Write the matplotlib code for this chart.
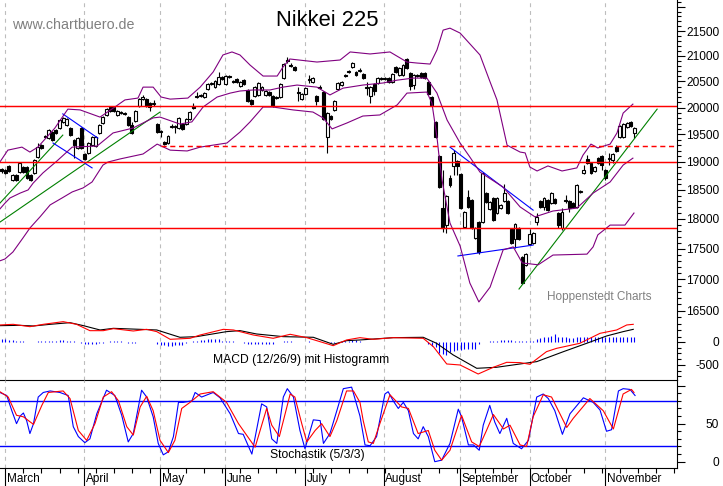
import matplotlib
matplotlib.use("Agg")
import matplotlib.pyplot as plt
from matplotlib.ticker import NullFormatter
from matplotlib.transforms import blended_transform_factory as btf

plt.rcParams['font.family'] = ['Liberation Sans', 'DejaVu Sans']

# ---------- daily candles ----------
opens = [18870,18850,18920,18670,18760,18815,18905,18905,18760,18800,
19085,19300,19470,19430,19540,19580,19615,19730,19670,19615,
19395,19250,19615,19140,19160,19300,19285,19525,19710,19860,
20010,20010,19860,19915,19895,19820,19670,19745,20030,20160,
20160,20085,20065,19690,19560,19355,19340,19635,19635,19615,
19690,19690,19785,20030,20220,20220,20200,20355,20450,20390,
20450,20585,20450,20605,20510,20545,20410,20525,20335,20145,
20220,20240,20335,20240,20295,20220,20200,20200,20565,20920,
20820,20780,20295,20160,20260,20545,20490,20220,20390,20295,
19450,19840,19955,20355,20430,20625,20705,20780,20685,20705,
20645,20390,20220,20450,20470,20565,20545,20565,20490,20780,
20625,20625,20940,20665,20430,20625,20665,20665,20490,20200,
19730,19105,18185,17895,18710,18925,19015,18780,17865,18375,
18325,17680,17945,17945,18445,18170,18360,18100,18185,18305,
18305,17830,17660,17845,17360,17235,17580,17595,17945,18305,
18205,18325,18270,18340,18100,17845,18325,18305,18270,18205,
18465,18800,19050,18975,18835,19065,19105,18850,19050,19030,
19265,19450,19450,19635,19730,19525]
highs = [18890,18870,18940,18780,18780,18995,18925,18925,18780,19050,
19340,19320,19490,19600,19560,19600,19785,19820,19800,19635,
19410,19450,19635,19160,19355,19470,19470,19690,19840,19990,
20030,20030,19955,19935,19915,19840,19730,19955,20180,20240,
20180,20105,20145,19710,19580,19375,19485,19690,19670,19820,
19710,19800,19935,20085,20295,20260,20295,20470,20490,20530,
20685,20605,20625,20625,20530,20565,20510,20545,20355,20160,
20410,20490,20410,20335,20315,20240,20220,20470,20860,20980,
20860,20800,20390,20280,20390,20625,20585,20240,20430,20315,
19915,19860,20145,20490,20510,20645,20725,20880,20705,20760,
20665,20490,20410,20470,20585,20585,20585,20585,20665,20800,
20780,20840,20960,20685,20645,20645,20685,20685,20510,20220,
19745,19125,18850,18410,18765,19215,19035,18800,18135,18500,
18340,17860,17965,18815,18460,18305,18375,18375,18255,18600,
18320,17845,17930,17860,17380,17430,17830,17780,18100,18320,
18375,18340,18460,18360,18120,18185,18410,18320,18290,18600,
18500,18940,19120,18995,18925,19085,19125,18870,19160,19160,
19300,19670,19710,19730,19745,19635]
lows = [18800,18780,18820,18660,18655,18800,18800,18690,18655,18780,
19065,19230,19430,19410,19375,19505,19600,19710,19655,19470,
19065,19230,19230,19030,19140,19285,19265,19505,19690,19840,
19915,19915,19840,19880,19860,19655,19505,19730,20010,20140,
20010,19935,20030,19525,19450,19300,19320,19615,19525,19600,
19580,19670,19765,19975,20180,20200,20180,20335,20430,20370,
20430,20525,20430,20565,20470,20470,20390,20430,20105,20050,
20200,20220,20315,20220,20220,20010,20160,20180,20545,20860,
20780,20705,20125,20145,20240,20470,20470,20050,20355,19765,
19160,19765,19935,20335,20410,20585,20665,20760,20605,20685,
20545,20240,20085,20240,20450,20525,20525,20470,20470,20665,
20605,20605,20740,20335,20355,20585,20565,20545,20240,20030,
19430,18535,17780,17760,18550,18765,18765,18170,17845,18185,
17830,17660,17410,17930,18270,18150,17965,18085,18170,18290,
18085,17580,17510,17645,16920,17215,17560,17580,17895,18185,
18150,18135,18255,18255,17845,17810,18270,18120,18185,18185,
18445,18780,18960,18780,18815,18960,18850,18675,18940,18975,
19175,19430,19430,19615,19635,19430]
closes = [18835,18800,18830,18760,18670,18975,18815,18710,18675,19030,
19265,19250,19450,19580,19395,19525,19765,19800,19785,19485,
19305,19430,19250,19050,19340,19450,19450,19670,19820,19970,
19935,19935,19935,19895,19880,19670,19525,19935,20160,20200,
20030,20010,20085,19540,19540,19320,19470,19655,19655,19805,
19600,19785,19915,19990,20200,20240,20275,20450,20470,20510,
20585,20545,20605,20585,20490,20490,20490,20450,20125,20065,
20390,20470,20390,20315,20240,20030,20180,20450,20840,20900,
20800,20720,20275,20260,20370,20525,20565,20125,20370,19785,
19895,19785,20125,20470,20490,20605,20685,20860,20625,20720,
20565,20370,20390,20315,20565,20545,20565,20490,20645,20685,
20760,20820,20760,20410,20625,20605,20585,20565,20260,20050,
19450,18550,17845,18395,18585,19160,18925,18185,18120,18205,
17845,17845,17445,18800,18290,18290,17980,18360,18240,18445,
18100,17595,17915,17660,16940,17410,17745,17760,18035,18205,
18360,18150,18445,18270,17895,18120,18305,18185,18205,18585,
18480,18850,18975,18800,18905,18975,18940,18710,19065,19140,
19195,19655,19690,19710,19655,19615]

# ---------- Bollinger bands (sampled) ----------
upper_days = [-.5,1.7,5.6,7.8,10,14.7,18.3,21.7,27.2,31.3,34.1,37.7,39.1,41.9,44.1,46.6,51.5,54.9,58.5,61.2,63.7,65.9,
68.7,72.3,76.2,77.8,79.7,87.2,93.6,96.4,101.9,107.4,112.1,114.9,118.5,120.4,122.1,124,126.8,132.3,135.1,137,139.8,
143.4,144.8,146.1,148.1,151.1,155,159.1,160.8,163,164.9,168.3,170.2,171.9,174.6]
upper_vals = [18995,19210,19265,19175,19265,19615,19970,19955,19820,20010,20145,20180,20390,20390,20200,20160,20180,20390,20685,21020,21080,21020,
20820,20605,20605,20780,20940,20880,20920,21080,21040,21080,20880,20860,20840,21120,21520,21560,21460,21020,20490,20145,19300,
19175,19160,18905,18835,18925,18835,18890,19120,19320,19250,19320,19525,19895,20065]
middle_days = [-.5,.9,2.3,5.1,7.3,8.7,11.4,15.3,19.5,26.4,30.8,36.3,41.9,43.8,49.3,52.6,55.7,59.6,63.2,65.9,69.5,74.2,77.8,81.7,
87.2,90.8,94.4,99.9,105.5,109.4,113.8,117.6,120.4,123.2,126.8,129.5,132.3,138.7,143.4,147.5,152.5,159.1,163.6,168.3,171.9,174.6]
middle_vals = [18170,18270,18360,18445,18500,18620,18800,19015,19265,19285,19525,19615,19805,19820,19690,19730,20010,20200,20275,20315,20335,20335,20390,20430,
20390,20240,20370,20430,20470,20525,20565,20565,20275,19765,19340,19085,18815,18550,18205,18035,18135,18185,18445,18640,18940,19065]
lower_days = [-.5,.9,3.1,5.9,7.8,10.6,13.4,16.7,19.5,22.5,25,26.6,28,29.4,32.7,39.1,43,46.6,51.3,54.9,62.3,65.9,68.7,72.3,75,80.6,86.1,88.9,91.4,95.5,99.9,
104.6,109.4,112.1,117.6,119,120.4,121,121.8,124,126.8,129.5,132,135.1,138.7,141.5,144,148.4,152.5,161.9,163.6,164.9,168.3,172.4,174.9]
lower_vals = [17300,17330,17445,17680,17845,18035,18240,18360,18465,18535,18640,18800,18940,18995,19050,19140,19320,19210,19195,19265,19340,19540,19730,20010,20010,19955,19915,19805,19600,19710,19840,
19860,20050,20275,20295,20085,19450,19085,18675,17930,17545,16940,16640,16875,17480,17530,17265,17235,17395,17410,17530,17730,17895,17895,18100]

# ---------- trend lines and levels ----------
green_days = [(-.5,16.9),(-.5,43.8),(143.1,181.3)]
green_vals = [(18270,19485),(17945,19915),(16845,19970)]
blue_days = [(16.9,26.6),(14.2,25),(124,147),(126.2,147)]
blue_vals = [(19880,19430),(19340,18890),(19265,18150),(17380,17560)]
red_levels = [20025,18990,17840]
red_dashed_level = 19285
red_dashed_start = 44

# ---------- MACD ----------
macd_days = [-.5,3.2,7.8,11.5,17,20.7,24.4,28.1,30.9,36.4,40.1,42.9,46.6,52.1,54.9,61.3,64.1,69.6,75.1,79.8,84.4,91.7,95.4,99.1,
102.8,108.3,116.6,119.4,123.1,126.8,131.8,136,139.7,143.4,146.1,150.7,153.5,159.9,165.5,170.1,172.9,174.7]
macd_vals = [370,384,333,384,442,384,246,246,290,239,275,225,58,80,152,275,261,152,80,167,94,-80,44,94,
58,94,80,-101,-478,-500,-696,-550,-442,-449,-485,-210,-138,-29,188,261,370,384]
signal_days = [-.5,5,8.75,13.4,18.9,22.6,27.2,30.9,38.3,42.9,49.3,53.9,62.2,65.9,70.5,77.9,86.2,91.7,95.4,99.1,
108.3,116.6,120.3,124.9,131.4,136.9,143.4,148,155.4,161.8,167.3,171.9,174.7]
signal_vals = [355,362,348,384,420,355,261,297,275,261,102,116,225,247,174,116,102,-51,29,44,
94,102,-29,-282,-572,-550,-478,-427,-210,-29,130,225,275]
hist_vals = [70,60,50,40,30,20,15,0,-10,0,
20,20,25,25,30,30,35,35,30,25,
20,10,-25,-45,-50,-50,-40,-30,-15,0,
15,15,15,15,0,-15,-25,-15,0,0,
0,0,0,-40,-55,-70,-80,-80,-75,-70,
-55,-30,0,20,30,40,50,55,60,65,
55,30,25,20,20,10,0,-25,-40,-40,
-45,-50,-40,-35,-40,-45,0,0,25,30,
30,0,0,0,10,15,0,0,0,0,
0,-25,-30,-10,25,30,30,35,35,30,
10,5,0,0,0,0,0,0,10,10,
10,10,0,0,0,0,0,0,-35,-80,
-110,-250,-270,-290,-220,-190,-170,-165,-145,-145,
-145,-145,-50,0,0,25,25,30,35,40,
40,35,30,25,25,25,20,30,70,90,
100,110,120,165,110,100,100,95,95,100,
100,110,110,110,100,110,110,100,100,100,
100,110,110,110,100,100]

# ---------- Stochastic ----------
fast_days = [-.5,1.4,2.8,4.1,5.1,6,6.9,7.8,8.8,10.1,11.5,13.4,16.1,18.4,19.8,21.2,23,24.4,26.3,29,31.3,33.2,35,36.4,38.7,40.1,41.9,43.3,44.7,46.1,47.5,48.9,50.2,52.6,53.5,55.3,58.5,60.4,63.2,65.5,66.8,69.2,71.9,73.3,74.7,76.1,77.9,79,80.7,82.5,83.9,86.2,88.1,89,90.8,92.7,94.5,96.8,99.1,
100.5,101.9,103.7,106,106.9,108.3,109.7,111.1,112.5,113.9,115.2,116.6,118,119.8,121.7,124,126.3,127.2,129.1,130.5,132.1,133.2,135,136.4,137.8,139.7,141.5,143.8,145.7,148,149.8,151.2,153,155.1,157.2,160.9,163.6,165.5,167.3,168.7,170.6,171.9,173.8,175.2]
fast_vals = [91,87,67,50,60,64,54,37,50,85,91,93,91,87,46,33,25,30,63,94,87,61,26,37,94,85,59,24,9,13,33,78,78,80,91,85,91,84,63,37,36,10,76,72,30,24,85,96,85,41,17,55,54,24,37,67,96,98,60,
22,21,33,89,92,80,70,78,67,37,30,46,33,0,2,24,69,59,22,22,15,48,74,52,37,57,24,17,28,85,89,83,67,36,63,84,78,68,40,42,93,96,95,87]
slow_days = [-.5,1.8,4.1,6,8.8,11.1,12.9,17,18.9,21.2,23.5,25.8,28.1,30.4,32.3,34.6,36.4,38.3,40.1,41.9,43.8,46.1,47.9,49.8,52.1,54.9,58.5,62.2,65.5,70.1,73.3,74.7,76.8,79.8,81.1,83,84.4,86.7,88.5,90.8,92.7,95.4,97.3,99.1,
100,101.4,102.8,104.6,107.4,110.6,112.5,115.2,118,119.8,121.7,124,127.2,130,132.1,134.1,136,138.8,140.6,143.4,145.2,147,149.8,152.1,156.3,158.1,162.7,166.4,169.2,171.9,174.2,174.9]
slow_vals = [92,85,61,59,49,74,91,93,83,41,28,50,85,92,80,46,35,72,86,67,28,12,28,70,78,89,92,78,50,19,70,48,33,89,85,50,26,41,50,33,54,93,93,78,
54,26,24,50,88,72,70,37,41,15,2,15,61,26,20,41,62,43,48,22,20,59,88,85,45,57,83,67,43,89,95,91]
stoch_levels = [80,20]

# ---------- axes labels ----------
month_names = ['March','April','May','June','July','August','September','October','November']
month_days = [1,22.85,43.9,61.85,84,105.8,126.8,146,167]
price_ticks = [16500,17000,17500,18000,18500,19000,19500,20000,20500,21000,21500,22000]
price_labels = ['16500','17000','17500','18000','18500','19000','19500','20000','20500','21000','21500','']
price_minor = [16100,16200,16300,16400,16600,16700,16800,16900,17100,17200,17300,17400,17600,17700,17800,17900,
18100,18200,18300,18400,18600,18700,18800,18900,19100,19200,19300,19400,19600,19700,19800,19900,
20100,20200,20300,20400,20600,20700,20800,20900,21100,21200,21300,21400,21600,21700,21800,21900,22100]

W, H = 723, 486
XR = 677
x_min, x_max = -0.47, 186.8
days = list(range(len(opens)))

fig = plt.figure(figsize=(W/100, H/100), dpi=100, facecolor='white')

def rect(top, bottom):
    return [0, 1-bottom/H, XR/W, (bottom-top)/H]

ax = fig.add_axes(rect(0, 380.3))
am = fig.add_axes(rect(0, 380.3), facecolor='none')
st = fig.add_axes(rect(380.3, 468.3), facecolor='none')

LW = 0.8
PURPLE, GREEN, BLUE, RED = '#800080', '#008000', '#0000FF', '#FF0000'
GRID = '#BDBDBD'

for a in (ax, am, st):
    a.set_xlim(x_min, x_max)
    for s in ('top', 'left'):
        a.spines[s].set_visible(False)
    for s in ('right', 'bottom'):
        a.spines[s].set_linewidth(LW)
    a.yaxis.tick_right()
    a.tick_params(axis='y', which='major', length=5.4, width=LW, pad=25, labelsize=8.6)
    a.tick_params(axis='y', which='minor', length=2.6, width=LW)
    a.set_xticks([])

# price pane
ax.set_yscale('log')
ax.set_ylim(15451, 22142)
ax.set_yticks(price_ticks, price_labels)
ax.set_yticks(price_minor, minor=True)
ax.yaxis.set_minor_formatter(NullFormatter())
for t in ax.get_yticklabels():
    t.set_ha('right')
for d in month_days:
    ax.axvline(d, color=GRID, lw=LW, dashes=(3.5, 3.5), zorder=1)

ax.vlines(days, lows, highs, color='black', lw=LW, zorder=2)
bottoms = [min(o, c) for o, c in zip(opens, closes)]
heights = [abs(o-c) for o, c in zip(opens, closes)]
faces = ['black' if c < o else 'white' for o, c in zip(opens, closes)]
ax.bar(days, heights, bottom=bottoms, width=0.8, color=faces, edgecolor='black', linewidth=LW, zorder=2.5)

for dd, vv in zip(green_days, green_vals):
    ax.plot(dd, vv, color=GREEN, lw=LW, zorder=3)
for dd, vv in zip(blue_days, blue_vals):
    ax.plot(dd, vv, color=BLUE, lw=LW, zorder=3)
for dd, vv in ((upper_days, upper_vals), (middle_days, middle_vals), (lower_days, lower_vals)):
    ax.plot(dd, vv, color=PURPLE, lw=LW, zorder=3.2)
for lv in red_levels:
    ax.axhline(lv, color=RED, lw=1.05, zorder=3.5)
ax.plot([red_dashed_start, x_max], [red_dashed_level]*2, color=RED, lw=1.05, dashes=(3.5, 2.5), zorder=3.5)

# MACD overlay
am.patch.set_alpha(0)
am.spines['right'].set_visible(False)
am.spines['bottom'].set_visible(False)
am.set_ylim(-833, 7435)
am.set_yticks([-500, 0], ['-500', '0'])
am.set_yticks([-750, -625, -375, -250, -125], minor=True)
for t in am.get_yticklabels():
    t.set_ha('right')
am.vlines(days, 0, hist_vals, color=BLUE, lw=LW, zorder=2)
am.plot(signal_days, signal_vals, color='black', lw=LW, zorder=3)
am.plot(macd_days, macd_vals, color=RED, lw=LW, zorder=3.1)

# stochastic pane
st.set_ylim(-8.7, 107)
st.set_yticks([0, 50, 100], ['0', '50', ''])
st.set_yticks([10, 20, 30, 40, 60, 70, 80, 90], minor=True)
for t in st.get_yticklabels():
    t.set_ha('right')
for d in month_days:
    st.axvline(d, color=GRID, lw=LW, dashes=(3.5, 3.5), zorder=1)
for lv in stoch_levels:
    st.axhline(lv, color=BLUE, lw=1.0, zorder=2)
st.plot(fast_days, fast_vals, color=BLUE, lw=LW, zorder=3)
st.plot(slow_days, slow_vals, color=RED, lw=LW, zorder=3.2)

# time axis under the lower pane
st.set_xticks(month_days)
st.set_xticks(list(range(6, 187, 5)), minor=True)
st.set_xticklabels([])
st.tick_params(axis='x', which='major', length=13, width=LW)
st.tick_params(axis='x', which='minor', length=3.4, width=LW)
tr = btf(st.transData, st.transAxes)
for name, d in zip(month_names, month_days):
    st.text(d+0.35, -0.155, name, transform=tr, ha='left', va='baseline', fontsize=8.5, clip_on=False)

def ftext(x, y, s, **kw):
    fig.text(x/W, 1-y/H, s, **kw)

ftext(12, 25, 'www.chartbuero.de', color='#808080', fontsize=10.3, va='center', ha='left')
ftext(327.5, 21, 'Nikkei 225', color='black', fontsize=15.8, va='center', ha='center')
ftext(547, 297, 'Hoppenstedt Charts', color='#808080', fontsize=8.5, va='center', ha='left')
ftext(213, 360, 'MACD (12/26/9) mit Histogramm', color='black', fontsize=8.7, va='center', ha='left')
ftext(270, 455, 'Stochastik (5/3/3)', color='black', fontsize=8.7, va='center', ha='left')

fig.savefig('out.png', dpi=100, facecolor='white')
